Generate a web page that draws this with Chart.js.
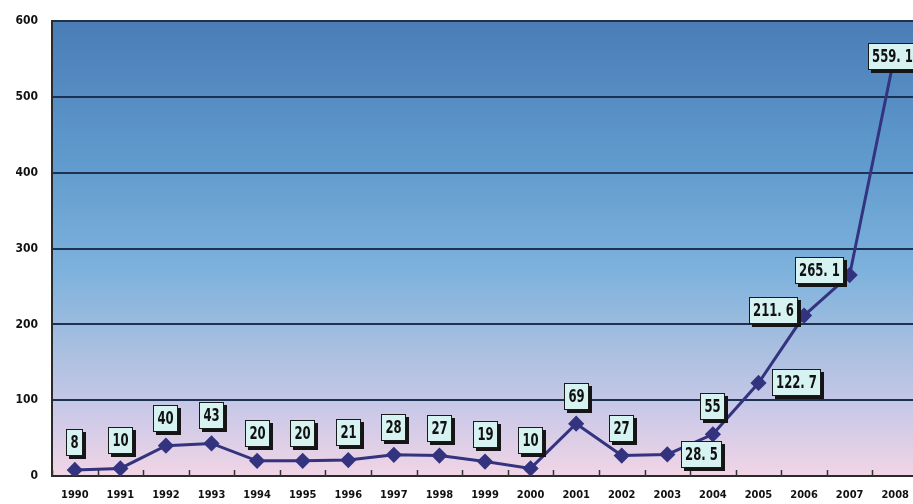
<!DOCTYPE html>
<html>
<head>
<meta charset="utf-8">
<script src="https://cdn.jsdelivr.net/npm/chart.js@4/dist/chart.umd.min.js"></script>
<style>
  html, body { margin: 0; padding: 0; background: #fff; overflow: hidden; }
  #wrap { width: 913px; height: 504px; overflow: hidden; }
</style>
</head>
<body>
<div id="wrap"><canvas id="my-chart" width="927" height="504"></canvas></div>
<script>
var years = ['1990', '1991', '1992', '1993', '1994', '1995', '1996', '1997', '1998', '1999',
             '2000', '2001', '2002', '2003', '2004', '2005', '2006', '2007', '2008'];
var amount = [8, 10, 40, 43, 20, 20, 21, 28, 27, 19, 10, 69, 27, 28.5, 55, 122.7, 211.6, 265.1, 559.1];
var yTicks = [0, 100, 200, 300, 400, 500, 600];

// where each value box sits relative to its point
var labelSide = ['top', 'top', 'top', 'top', 'top', 'top', 'top', 'top', 'top', 'top',
                 'top', 'top', 'top', 'right', 'top', 'right', 'left', 'left', 'over'];

var lineColor = '#34337f';
var narrow = '"DejaVu Sans Condensed", "DejaVu Sans", sans-serif';

// gradient fill behind the plot
var plotBackground = {
  id: 'plotBackground',
  beforeDraw: function (chart) {
    var a = chart.chartArea, c = chart.ctx;
    var g = c.createLinearGradient(0, a.top, 0, a.bottom);
    g.addColorStop(0, '#4a7db6');
    g.addColorStop(0.3, '#5f9acd');
    g.addColorStop(0.55, '#7db2dc');
    g.addColorStop(0.72, '#a9bfe0');
    g.addColorStop(0.86, '#cbc9e8');
    g.addColorStop(1, '#f1d5e5');
    c.save();
    c.fillStyle = g;
    c.fillRect(a.left, a.top, a.right - a.left, a.bottom - a.top);
    c.restore();
  }
};

// value boxes with a hard drop shadow, plus inner ticks on the category axis
var valueBoxes = {
  id: 'valueBoxes',
  afterDatasetsDraw: function (chart) {
    var c = chart.ctx;
    var meta = chart.getDatasetMeta(0);
    var xs = chart.scales.x, a = chart.chartArea;
    var step = xs.getPixelForValue(1) - xs.getPixelForValue(0);

    c.save();
    c.strokeStyle = '#333';
    c.lineWidth = 1.5;
    for (var i = 0; i <= years.length; i++) {
      var tx = Math.round(xs.getPixelForValue(i) - step / 2) + 0.5;
      c.beginPath();
      c.moveTo(tx, a.bottom);
      c.lineTo(tx, a.bottom - 6);
      c.stroke();
    }

    c.font = 'bold 18px ' + narrow;
    c.textBaseline = 'middle';
    var squeeze = 0.72;
    meta.data.forEach(function (pt, i) {
      var text = String(amount[i]).replace('.', '. ');
      var w = Math.ceil(c.measureText(text).width * squeeze) + 8;
      var h = 27;
      var cx = pt.x, cy = pt.y;
      var side = labelSide[i];
      if (side === 'top') { cy = pt.y - 14 - h / 2; }
      else if (side === 'right') { cx = pt.x + 14 + w / 2; }
      else if (side === 'left') { cx = pt.x - 6 - w / 2; cy = pt.y - 5; }
      else { cx = pt.x - 3; cy = pt.y + 4; }
      var x0 = Math.round(cx - w / 2), y0 = Math.round(cy - h / 2);

      c.fillStyle = '#151515';
      c.fillRect(x0 + 3, y0 + 3, w, h);
      c.fillStyle = '#d6f3f2';
      c.fillRect(x0, y0, w, h);
      c.strokeStyle = '#1a1a1a';
      c.lineWidth = 1;
      c.strokeRect(x0 + 0.5, y0 + 0.5, w - 1, h - 1);

      c.save();
      c.translate(x0 + w / 2, y0 + h / 2 + 1);
      c.scale(squeeze, 1);
      c.textAlign = 'center';
      c.fillStyle = '#111';
      c.fillText(text, 0, 0);
      c.restore();
    });
    c.restore();
  }
};

var ctx = document.getElementById('my-chart');

var myChart = new Chart(ctx, {
  type: 'line',
  data: {
    labels: years,
    datasets: [{
      label: 'amount',
      data: amount,
      borderColor: lineColor,
      backgroundColor: lineColor,
      borderWidth: 3,
      pointStyle: 'rectRot',
      pointRadius: 6,
      pointBackgroundColor: lineColor,
      pointBorderColor: lineColor,
      tension: 0
    }]
  },
  options: {
    responsive: false,
    animation: false,
    events: [],
    layout: { padding: { top: 16, right: 0, left: 0, bottom: 0 } },
    plugins: {
      legend: { display: false },
      tooltip: { enabled: false }
    },
    scales: {
      x: {
        offset: true,
        grid: { display: false, offset: true },
        border: { display: true, color: '#2a2a2a', width: 2 },
        ticks: {
          color: '#111',
          padding: 5,
          maxRotation: 0,
          autoSkip: false,
          font: { family: narrow, size: 11, weight: 'bold' }
        },
        afterFit: function (s) { s.height = 28; }
      },
      y: {
        min: 0,
        max: 600,
        afterBuildTicks: function (s) {
          s.ticks = yTicks.map(function (v) { return { value: v }; });
        },
        grid: { color: '#1e3150', lineWidth: 2, drawTicks: false },
        border: { display: true, color: '#2a2a2a', width: 2 },
        ticks: {
          color: '#111',
          padding: 14,
          font: { family: narrow, size: 12, weight: 'bold' }
        },
        afterFit: function (s) { s.width = 52; }
      }
    }
  },
  plugins: [plotBackground, valueBoxes]
});
</script>
</body>
</html>
